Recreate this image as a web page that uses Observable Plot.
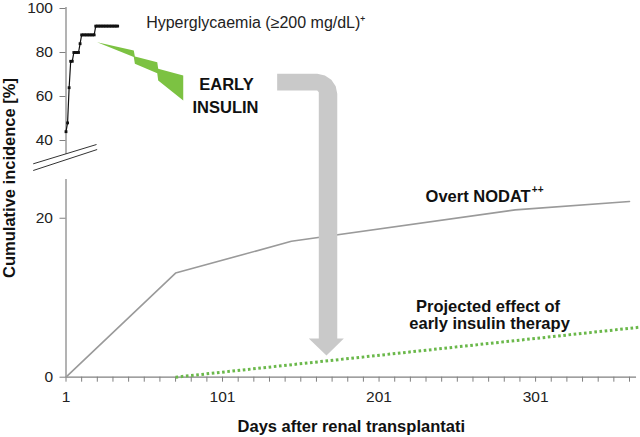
<!DOCTYPE html>
<html><head><meta charset="utf-8">
<script src="https://cdn.jsdelivr.net/npm/d3@7"></script>
<script src="https://cdn.jsdelivr.net/npm/@observablehq/plot@0.6"></script>
<style>html,body{margin:0;padding:0;background:#fff}#chart{width:640px;height:437px}</style>
</head><body><div id="chart"></div>
<script>
// ---- data (days after transplantation, cumulative incidence %) ----
const hyperDays = [1,2,3,4,5,6,7,8,9,10,11,12,13,14,15,16,17,18,19,20,21,22,23,24,25,26,27,28,29,30,31,32,33,34];
const hyperPct  = [44,48,64,76,76,80,80,80,80,84,88,88,88,88,88,88,88,88,88,92,92,92,92,92,92,92,92,92,92,92,92,92,92,92];
const nodatDays = [1, 71, 145, 288, 361];
const nodatPct  = [0, 13.1, 17.1, 21.05, 22.1];
const projDays  = [71, 368];
const projPct   = [0, 6.3];
const yTicks = [0, 20, 40, 60, 80, 100];
const xTickLabels = [1, 101, 201, 301];

// decorative shapes, in data units (day, %)
const boltDays = [20.9, 44.3, 45.0, 59.3, 59.9, 75.9, 75.9, 59.9, 59.3, 45.0, 44.3];
const boltPct  = [84.7, 80.9, 78.2, 75.6, 72.6, 69.5, 58.2, 67.3, 70.6, 74.9, 77.9];
const arrowDays = [135.9, 161.5, 166.4, 170.5, 173.3, 174.3, 174.3, 178.5, 167.4, 156.1, 162.5, 162.5, 161.5, 135.9];
const arrowPct  = [70.3, 70.3, 69.6, 67.65, 64.7, 61.2, 4.87, 4.87, 2.73, 4.87, 4.87, 61.9, 62.7, 62.7];

const hyper = hyperDays.map((d, i) => ({day: d, pct: hyperPct[i]}));
const nodat = nodatDays.map((d, i) => ({day: d, pct: nodatPct[i]}));
const proj  = projDays.map((d, i) => ({day: d, pct: projPct[i]}));
const bolt  = boltDays.map((d, i) => ({day: d, pct: boltPct[i]}));
const arrow = arrowDays.map((d, i) => ({day: d, pct: arrowPct[i]}));
const breaks = [
  {x1: -19.95, y1: 30.33, x2: 20.5, y2: 38.18},
  {x1: -19.95, y1: 27.9,  x2: 20.9, y2: 35.9}
];

// broken y axis: 0–25 (lower panel) and 34–100 (upper panel)
const yBreak = d3.scaleLinear().domain([0, 25, 34, 100]).range([0, 198.7, 223.5, 368.7]);

const axisGray = "#808080";
const font = "'Liberation Sans', Arial, Helvetica, sans-serif";
const bold = {fontWeight: "bold", fontSize: 16.5, fill: "#111"};

const chart = Plot.plot({
  width: 640, height: 437,
  marginLeft: 65.5, marginRight: 11, marginTop: 8, marginBottom: 60.3,
  style: {fontFamily: font, fontSize: "15px", background: "#fff", color: "#222", overflow: "visible"},
  x: {domain: [1, 361], range: [65.5, 629]},
  y: {transform: v => yBreak(v), domain: [0, 368.7], range: [376.7, 8]},
  marks: [
    // axis lines (broken y axis)
    Plot.ruleX([1], {y1: 33.7, y2: 100.45, stroke: axisGray, strokeWidth: 1.2}),
    Plot.ruleX([1], {y1: 0, y2: 24.87, stroke: axisGray, strokeWidth: 1.2}),
    Plot.ruleY([0], {x1: 1, x2: 365.5, stroke: axisGray, strokeWidth: 1.2}),
    Plot.link(breaks, {x1: "x1", y1: "y1", x2: "x2", y2: "y2", stroke: "#333", strokeWidth: 1}),
    Plot.axisY({ticks: yTicks.map(v => yBreak(v)), tickSize: 6, tickPadding: 7, label: null,
      tickFormat: t => String(Math.round(yBreak.invert(t))), stroke: axisGray, fill: "#222", fontSize: 15.5}),
    Plot.axisX({ticks: d3.range(1, 362, 10), tickSize: 5, tickPadding: 9, label: null,
      tickFormat: d => xTickLabels.includes(d) ? String(d) : "", stroke: axisGray, fill: "#222", fontSize: 15.5}),
    // series
    Plot.line(nodat, {x: "day", y: "pct", stroke: "#9a9a9a", strokeWidth: 1.6}),
    Plot.line(proj, {x: "day", y: "pct", stroke: "#6ab84a", strokeWidth: 3, strokeDasharray: "2.6 2.6", strokeLinecap: "butt"}),
    Plot.line(hyper, {x: "day", y: "pct", stroke: "#111", strokeWidth: 1.2}),
    Plot.dot(hyper, {x: "day", y: "pct", symbol: "square", r: 1.6, fill: "#111", stroke: "none"}),
    // decorations
    Plot.line(bolt, {x: "day", y: "pct", fill: "#7cc242", stroke: "none"}),
    Plot.line(arrow, {x: "day", y: "pct", fill: "#c9c9c9", stroke: "none"}),
    // annotations
    Plot.text(["Hyperglycaemia (≥200 mg/dL)⁺"], {x: 52.2, y: 93.3, text: d => d, textAnchor: "start", fontSize: 16, fill: "#222"}),
    Plot.text(["EARLY"], {x: 103.5, y: 65.2, text: d => d, ...bold}),
    Plot.text(["INSULIN"], {x: 102.9, y: 55.1, text: d => d, ...bold}),
    Plot.text(["Overt NODAT"], {x: 230.7, y: 22.65, text: d => d, textAnchor: "start", ...bold}),
    Plot.text(["++"], {x: 298.6, y: 23.6, text: d => d, textAnchor: "start", fontWeight: "bold", fontSize: 10, fill: "#111"}),
    Plot.text(["Projected effect of"], {x: 270.6, y: 8.81, text: d => d, ...bold}),
    Plot.text(["early insulin therapy"], {x: 271.6, y: 6.72, text: d => d, ...bold}),
    Plot.text(["Days after renal transplantati"], {x: 110.6, y: -6.29, text: d => d, textAnchor: "start", ...bold}),
    Plot.text(["Cumulative incidence [%]"], {x: -34.8, y: 25.18, text: d => d, rotate: -90, ...bold})
  ]
});
document.getElementById("chart").appendChild(chart);
</script>
</body></html>
